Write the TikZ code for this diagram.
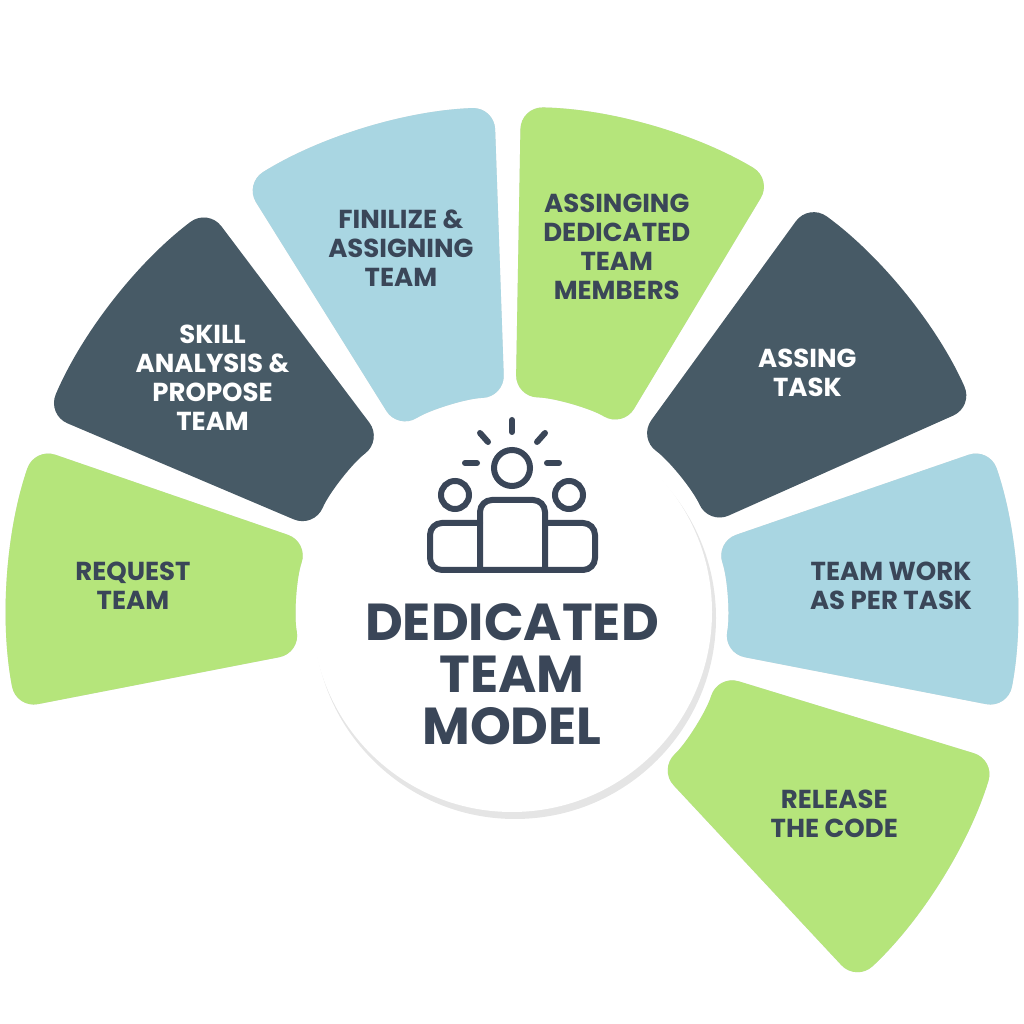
\documentclass[tikz,border=0pt]{standalone}
\usepackage{fontspec}
\setmainfont{Poppins}
\usetikzlibrary{calc}
\definecolor{leaf}{HTML}{B5E57B}
\definecolor{slate}{HTML}{475A66}
\definecolor{sky}{HTML}{A9D6E2}
\definecolor{ink}{HTML}{3A4658}
\begin{document}
\begin{tikzpicture}[x=1pt,y=1pt]
\tikzstyle{segment} = [rounded corners=22pt]
\tikzstyle{label} = [text=ink, font=\bfseries\fontsize{26}{29}\selectfont, align=center]
\tikzstyle{icon} = [draw=ink, line width=6pt, line cap=round, rounded corners=12pt]
\useasboundingbox (0,0) rectangle (1024,1024);
\coordinate (hub) at (512,412);

% the seven steps round the hub
\foreach \a/\b/\col/\txt/\tcol [count=\i] in {
  191/161/leaf/{REQUEST\\TEAM}/ink,
  157/127/slate/{SKILL\\ANALYSIS \&\\PROPOSE\\TEAM}/white,
  122/92/sky/{FINILIZE \&\\ASSIGNING\\TEAM}/ink,
  89/59/leaf/{ASSINGING\\DEDICATED\\TEAM\\MEMBERS}/ink,
  54/24/slate/{ASSING\\TASK}/white,
  19/-11/sky/{TEAM WORK\\AS PER TASK}/ink,
  -17/-47/leaf/{RELEASE\\THE CODE}/ink}{
  \fill[gray!25, segment, shift={(6,-10)}] ($(hub)+(\a:505)$) arc[start angle=\a, end angle=\b, radius=505]
    -- ($(hub)+(\b:215)$) arc[start angle=\b, end angle=\a, radius=215] -- cycle;
  \fill[\col, segment] ($(hub)+(\a:505)$) arc[start angle=\a, end angle=\b, radius=505]
    -- ($(hub)+(\b:215)$) arc[start angle=\b, end angle=\a, radius=215] -- cycle;
  \node[label, text=\tcol] (step\i) at ($(hub)+({(\a+\b)/2}:380)$) {\txt};
}

\fill[gray!20] ($(hub)+(3,-6)$) circle (201);
\fill[white] (hub) circle (200);
\node[label, font=\bfseries\fontsize{52}{52}\selectfont, text=ink, yshift=-2pt] (title) at (512,352) {DEDICATED\\TEAM\\MODEL};

% people icon
\draw[icon] (512,556) circle (18);
\draw[icon] (455,529) circle (14);
\draw[icon] (569,529) circle (14);
\draw[icon] (480,454) -- (480,524) -- (545,524) -- (545,454);
\draw[icon] (480,501) -- (430,501) -- (430,454) -- (595,454) -- (595,501) -- (545,501);
\draw[icon] (512,604) -- (512,592);
\draw[icon] (480,591) -- (488,582);
\draw[icon] (545,591) -- (537,582);
\draw[icon] (465,561) -- (477,561);
\draw[icon] (547,561) -- (559,561);
\end{tikzpicture}
\end{document}
